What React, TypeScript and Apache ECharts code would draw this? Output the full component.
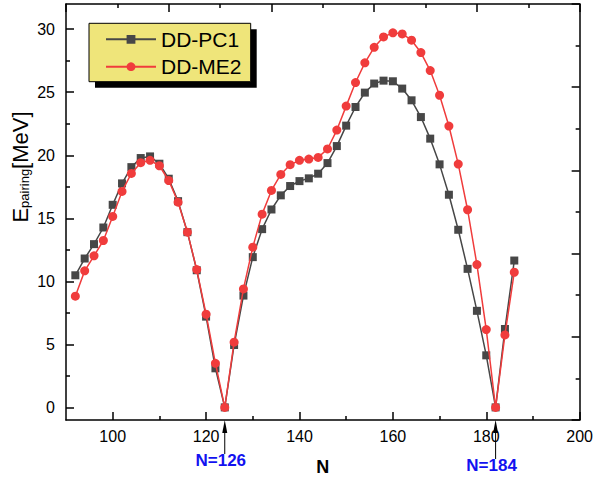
import React, { useEffect, useRef } from "react";
import * as echarts from "echarts";

const neutronNumbers = [
  92, 94, 96, 98, 100, 102, 104, 106, 108, 110, 112, 114, 116, 118, 120, 122,
  124, 126, 128, 130, 132, 134, 136, 138, 140, 142, 144, 146, 148, 150, 152, 154,
  156, 158, 160, 162, 164, 166, 168, 170, 172, 174, 176, 178, 180, 182, 184, 186,
];

const ddpc1 = [
  10.48, 11.81, 12.95, 14.27, 16.07, 17.77, 19.06, 19.78, 19.91, 19.33, 18.14, 16.36, 13.9, 10.88, 7.2, 3.1,
  0, 4.95, 8.87, 11.92, 14.14, 15.7, 16.82, 17.56, 17.95, 18.17, 18.54, 19.38, 20.73, 22.35, 23.83, 24.97,
  25.69, 25.92, 25.87, 25.29, 24.36, 23.03, 21.32, 19.28, 16.87, 14.09, 10.99, 7.66, 4.13, 0, 6.22, 11.65,
];

const ddme2 = [
  8.82, 10.83, 12.02, 13.24, 15.15, 17.13, 18.56, 19.41, 19.6, 19.17, 18.0, 16.28, 13.9, 10.93, 7.39, 3.5,
  0, 5.17, 9.4, 12.71, 15.33, 17.21, 18.48, 19.25, 19.6, 19.7, 19.83, 20.5, 22.0, 23.9, 25.77, 27.33,
  28.56, 29.39, 29.71, 29.63, 29.13, 28.15, 26.72, 24.76, 22.32, 19.3, 15.68, 11.33, 6.17, 0, 5.75, 10.72,
];

const xTickLabels = [100, 120, 140, 160, 180, 200];
const xMinorTicks = [110, 130, 150, 170, 190];
const yTickLabels = [0, 5, 10, 15, 20, 25, 30];
const yMinorTicks = [2.5, 7.5, 12.5, 17.5, 22.5, 27.5];
const magicNumbers = [
  { at: 124, label: "N=126" },
  { at: 182, label: "N=184" },
];

const FONT = "'Liberation Sans', Arial, Helvetica, sans-serif";
const GRAY = "#474747";
const RED = "#F03C3C";

export default function App() {
  const ref = useRef<HTMLDivElement | null>(null);

  useEffect(() => {
    if (!ref.current) return;
    const chart = echarts.init(ref.current, undefined, { renderer: "svg" });
    const axisLine = { show: true, onZero: false, lineStyle: { color: "#000", width: 1.5 } };
    const noLine = { show: false, onZero: false };
    const tickStyle = { color: "#000", width: 1.5 };

    const option: any = {
      animation: false,
      backgroundColor: "#fff",
      grid: { left: 66, right: 14, top: 4, bottom: 61, containLabel: false },
      xAxis: [
        {
          type: "value",
          position: "bottom",
          min: 90,
          max: 200,
          axisLine,
          axisTick: { show: true, inside: true, length: 8, lineStyle: tickStyle, customValues: xTickLabels },
          axisLabel: {
            show: true,
            customValues: xTickLabels,
            color: "#000",
            fontSize: 16,
            fontFamily: FONT,
            margin: 8,
          },
          splitLine: { show: false },
          name: "N",
          nameLocation: "middle",
          nameGap: 38,
          nameTextStyle: { color: "#000", fontSize: 18, fontWeight: "bold", fontFamily: FONT },
        },
        {
          type: "value",
          position: "bottom",
          min: 90,
          max: 200,
          axisLine: noLine,
          axisTick: { show: true, inside: true, length: 4, lineStyle: tickStyle, customValues: xMinorTicks },
          axisLabel: { show: false },
          splitLine: { show: false },
        },
        {
          type: "value",
          position: "top",
          min: 0,
          max: 5,
          interval: 1,
          axisLine,
          axisTick: { show: true, inside: true, length: 8, lineStyle: tickStyle },
          minorTick: { show: true, splitNumber: 2, length: 4, lineStyle: tickStyle },
          axisLabel: { show: false },
          splitLine: { show: false },
        },
      ],
      yAxis: [
        {
          type: "value",
          position: "left",
          min: -1,
          max: 32,
          axisLine,
          axisTick: { show: true, inside: true, length: 8, lineStyle: tickStyle, customValues: yTickLabels },
          axisLabel: {
            show: true,
            customValues: yTickLabels,
            color: "#000",
            fontSize: 16,
            fontFamily: FONT,
            margin: 11,
          },
          splitLine: { show: false },
        },
        {
          type: "value",
          position: "left",
          min: -1,
          max: 32,
          axisLine: noLine,
          axisTick: { show: true, inside: true, length: 4, lineStyle: tickStyle, customValues: yMinorTicks },
          axisLabel: { show: false },
          splitLine: { show: false },
        },
        {
          type: "value",
          position: "right",
          min: 0,
          max: 5,
          interval: 1,
          axisLine,
          axisTick: { show: true, inside: true, length: 8, lineStyle: tickStyle },
          minorTick: { show: true, splitNumber: 2, length: 4, lineStyle: tickStyle },
          axisLabel: { show: false },
          splitLine: { show: false },
        },
      ],
      legend: {
        show: true,
        orient: "vertical",
        left: 105,
        top: 28.3,
        padding: 0,
        itemWidth: 50,
        itemHeight: 11,
        itemGap: 5.4,
        textStyle: { color: "#000", fontSize: 21, fontFamily: FONT, lineHeight: 22 },
        data: ["DD-PC1", "DD-ME2"],
        z: 10,
      },
      series: [
        {
          name: "DD-PC1",
          type: "line",
          xAxisIndex: 0,
          yAxisIndex: 0,
          data: neutronNumbers.map((n, i) => [n, ddpc1[i]]),
          symbol: "rect",
          symbolSize: 8,
          itemStyle: { color: GRAY },
          lineStyle: { color: GRAY, width: 1.5 },
          z: 2,
        },
        {
          name: "DD-ME2",
          type: "line",
          xAxisIndex: 0,
          yAxisIndex: 0,
          data: neutronNumbers.map((n, i) => [n, ddme2[i]]),
          symbol: "circle",
          symbolSize: 9,
          itemStyle: { color: RED },
          lineStyle: { color: RED, width: 1.5 },
          z: 3,
        },
      ],
    };
    chart.setOption(option);

    const axisBottom = chart.convertToPixel({ yAxisIndex: 0 }, -1) as number;
    const elements: any[] = [
      {
        type: "rect",
        z: 5,
        shape: { x: 95, y: 29.3, width: 161.7, height: 58.4 },
        style: { fill: "#000" },
      },
      {
        type: "rect",
        z: 6,
        shape: { x: 89, y: 23.3, width: 161.7, height: 58.4 },
        style: { fill: "#EFE57A", stroke: "#000", lineWidth: 1 },
      },
      {
        type: "text",
        z: 6,
        x: 19,
        y: 167,
        rotation: Math.PI / 2,
        style: {
          text: "{a|E}{b|pairing}{a|[MeV]}",
          align: "center",
          verticalAlign: "middle",
          fill: "#000",
          rich: {
            a: { fontSize: 22, fontFamily: FONT, fill: "#000", lineHeight: 24, verticalAlign: "bottom" },
            b: { fontSize: 13, fontFamily: FONT, fill: "#000", lineHeight: 24, verticalAlign: "bottom", padding: [10, 0, 0, 0] },
          },
        },
      },
    ];
    const labelY = [460, 465];
    magicNumbers.forEach((m, idx) => {
      const px = chart.convertToPixel({ xAxisIndex: 0 }, m.at) as number;
      const ty = labelY[idx];
      elements.push({
        type: "line",
        z: 6,
        shape: { x1: px, y1: axisBottom + 10, x2: px, y2: ty - 6 },
        style: { stroke: "#000", lineWidth: 1 },
      });
      elements.push({
        type: "polygon",
        z: 6,
        shape: { points: [[px, axisBottom], [px - 2.5, axisBottom + 13], [px + 2.5, axisBottom + 13]] },
        style: { fill: "#000" },
      });
      elements.push({
        type: "text",
        z: 6,
        x: px - 4,
        y: ty,
        style: {
          text: m.label,
          align: "center",
          verticalAlign: "middle",
          fill: "#1212F0",
          fontSize: 17,
          fontWeight: "bold",
          fontFamily: FONT,
        },
      });
    });
    chart.setOption({ graphic: { elements } });

    return () => chart.dispose();
  }, []);

  return (
    <div
      ref={ref}
      style={{ position: "fixed", left: 0, top: 0, width: 596, height: 481, background: "#fff" }}
    />
  );
}
